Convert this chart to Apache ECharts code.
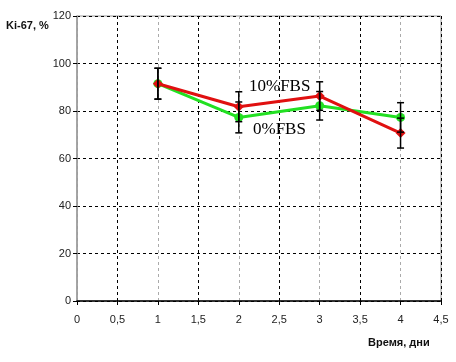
<!DOCTYPE html>
<html><head><meta charset="utf-8">
<script src="https://cdn.jsdelivr.net/npm/echarts@6/dist/echarts.min.js"></script>
<style>html,body{margin:0;padding:0;background:#fff}#c{width:456px;height:362px}</style>
</head><body><div id="c"></div>
<script>
var days = [1, 2, 3, 4];
var fbs10 = [91.5, 81.8, 86.3, 70.7];
var fbs10Err = [6.5, 6.3, 6.0, 6.3];
var fbs0 = [91.5, 77.3, 82.2, 77.3];
var fbs0Err = [6.5, 6.5, 6.0, 6.2];
var xTicks = ['0','0,5','1','1,5','2','2,5','3','3,5','4','4,5'];
var yTicks = [0, 20, 40, 60, 80, 100, 120];

var chart = echarts.init(document.getElementById('c'));
function errData(vals, errs){ return days.map(function(d,i){ return [d, vals[i]-errs[i], vals[i]+errs[i]]; }); }
function errItem(params, api){
  var x = api.value(0);
  var lo = api.coord([x, api.value(1)]);
  var hi = api.coord([x, api.value(2)]);
  var h = 3.5;
  var st = {stroke:'#000', lineWidth:1.5};
  return {type:'group', children:[
    {type:'line', shape:{x1:lo[0],y1:lo[1],x2:hi[0],y2:hi[1]}, style:st},
    {type:'line', shape:{x1:lo[0]-h,y1:lo[1],x2:lo[0]+h,y2:lo[1]}, style:st},
    {type:'line', shape:{x1:hi[0]-h,y1:hi[1],x2:hi[0]+h,y2:hi[1]}, style:st}
  ]};
}
chart.setOption({
  animation:false,
  grid:{left:77, right:15, top:16, bottom:61, show:true, borderColor:'#999', borderWidth:1},
  xAxis:{type:'value', min:0, max:4.5, interval:0.5,
    axisLine:{onZero:false, lineStyle:{color:'#000', width:1.5}},
    axisTick:{show:true, length:4, inside:false, lineStyle:{color:'#000'}},
    axisLabel:{color:'#222', fontFamily:'Liberation Sans, Arial', fontSize:11, margin:13,
      formatter:function(v){ return xTicks[Math.round(v*2)]; }},
    splitLine:{show:true, lineStyle:{color:['#aaa','#000'], type:[3,3], width:1}}
  },
  yAxis:{type:'value', min:0, max:120, interval:20,
    axisLine:{show:true, lineStyle:{color:'#999', width:1.5}},
    axisTick:{show:true, length:4, lineStyle:{color:'#000'}},
    axisLabel:{color:'#222', fontFamily:'Liberation Sans, Arial', fontSize:11, margin:6,
      formatter:function(v){ return yTicks.indexOf(v) >= 0 ? String(v) : ''; }},
    splitLine:{show:true, lineStyle:{color:'#000', type:[3,3], width:1}}
  },
  series:[
    {type:'line', name:'0%FBS', data:days.map(function(d,i){return [d,fbs0[i]];}),
      lineStyle:{color:'#22e022', width:3}, itemStyle:{color:'#22e022'}, symbol:'circle', symbolSize:9, z:3},
    {type:'line', name:'10%FBS', data:days.map(function(d,i){return [d,fbs10[i]];}),
      lineStyle:{color:'#e01010', width:3}, itemStyle:{color:'#e01010'}, symbol:'diamond', symbolSize:10, z:4},
    {type:'custom', renderItem:errItem, data:errData(fbs0, fbs0Err), encode:{x:0, y:[1,2]}, z:5},
    {type:'custom', renderItem:errItem, data:errData(fbs10, fbs10Err), encode:{x:0, y:[1,2]}, z:5}
  ],
  graphic:[
    {type:'text', left:6, top:20, style:{text:'Ki-67, %', font:'bold 11px "Liberation Sans", Arial', fill:'#111'}},
    {type:'text', left:368, top:337, style:{text:'Время, дни', font:'bold 11px "Liberation Sans", Arial', fill:'#111'}},
    {type:'text', left:249, top:78, style:{text:'10%FBS', font:'17px "Liberation Serif", "Times New Roman", serif', fill:'#000'}},
    {type:'text', left:253, top:121, style:{text:'0%FBS', font:'17px "Liberation Serif", "Times New Roman", serif', fill:'#000'}}
  ]
});
</script></body></html>
